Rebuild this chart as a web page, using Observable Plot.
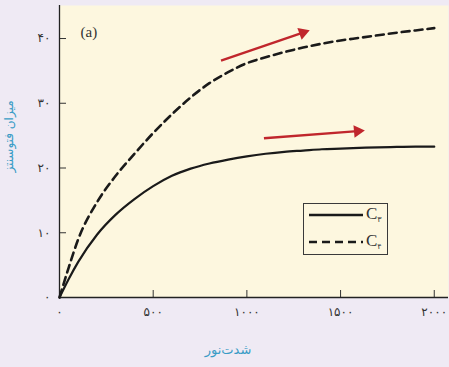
<!DOCTYPE html>
<html>
<head>
<meta charset="utf-8">
<script src="https://cdn.jsdelivr.net/npm/d3@7"></script>
<script src="https://cdn.jsdelivr.net/npm/@observablehq/plot@0.6"></script>
<style>
  html, body { margin: 0; padding: 0; background: #efeaf4; }
  #wrap { position: relative; width: 449px; height: 367px; overflow: hidden; }
  #legend { position: absolute; left: 303px; top: 203px; width: 85px; height: 52px;
    border: 1px solid #3a3a3a; box-sizing: border-box; font-family: "Liberation Serif", serif; }
  .row { position: absolute; left: 3px; height: 20px; }
  .row svg { position: absolute; left: 0; top: 0; }
  .row span { position: absolute; left: 59px; top: -1px; font-size: 17px; color: #333; }
  .row sub { font-family: "DejaVu Sans", sans-serif; font-size: 8px; vertical-align: -3px; }
</style>
</head>
<body>
<div id="wrap"></div>
<script>
const lightX = [0, 50, 100, 200, 300, 400, 500, 600, 700, 800, 900, 1000, 1100, 1200, 1300, 1400, 1500, 1600, 1700, 1800, 1900, 2000];
const c3Values = [0, 2.9, 5.5, 9.7, 12.8, 15.2, 17.2, 18.8, 19.9, 20.7, 21.3, 21.8, 22.2, 22.5, 22.7, 22.9, 23.0, 23.1, 23.2, 23.25, 23.3, 23.3];
const c4Values = [0, 4.7, 9.0, 14.7, 18.8, 22.2, 25.4, 28.3, 30.9, 33.1, 34.8, 36.2, 37.1, 37.9, 38.6, 39.2, 39.7, 40.1, 40.5, 40.9, 41.25, 41.6];
const seriesNames = ["C۳", "C۴"];
const xTicks = [0, 500, 1000, 1500, 2000];
const yTicks = [0, 10, 20, 30, 40];
const arrowX1 = [862, 1091];
const arrowY1 = [36.6, 24.6];
const arrowX2 = [1299, 1591];
const arrowY2 = [40.9, 25.7];
const arrowRotate = [70, 85];

const fa = (n) => String(n).replace(/\d/g, d => "۰۱۲۳۴۵۶۷۸۹"[d]);

const c3 = lightX.map((x, i) => ({x, y: c3Values[i]}));
const c4 = lightX.map((x, i) => ({x, y: c4Values[i]}));
const arrows = arrowX1.map((x, i) => ({x1: x, y1: arrowY1[i], x2: arrowX2[i], y2: arrowY2[i], r: arrowRotate[i]}));

const teal = "#3a9cc6";
const chart = Plot.plot({
  width: 449,
  height: 367,
  marginLeft: 59,
  marginRight: 1,
  marginTop: 5,
  marginBottom: 70,
  style: {background: "transparent", fontFamily: "DejaVu Sans, sans-serif"},
  x: {domain: [0, 2076]},
  y: {domain: [0, 45.1]},
  marks: [
    Plot.frame({fill: "#fdf7df", stroke: null}),
    Plot.axisX({ticks: xTicks, tickFormat: fa, tickSize: -7, tickPadding: 17, fontSize: 12, color: "#333", label: null}),
    Plot.axisY({ticks: yTicks, tickFormat: fa, tickSize: -7, tickPadding: 16, fontSize: 12, color: "#333", label: null}),
    Plot.ruleX([0], {stroke: "#222", strokeWidth: 1.3}),
    Plot.ruleY([0], {stroke: "#222", strokeWidth: 1.3}),
    Plot.line(c3, {x: "x", y: "y", stroke: "#1a1a1a", strokeWidth: 2.2, curve: "monotone-x"}),
    Plot.line(c4, {x: "x", y: "y", stroke: "#1a1a1a", strokeWidth: 2.6, strokeDasharray: "8,5", curve: "monotone-x"}),
    Plot.link(arrows, {x1: "x1", y1: "y1", x2: "x2", y2: "y2", stroke: "#c0262c", strokeWidth: 2.4}),
    Plot.dot(arrows, {x: "x2", y: "y2", symbol: "triangle2", r: 6, fill: "#c0262c", stroke: null, rotate: "r"}),
    Plot.text(["(a)"], {frameAnchor: "top-left", dx: 21, dy: 21, fontSize: 15, fontFamily: "Liberation Serif, serif", fill: "#333", textAnchor: "start"}),
    Plot.text(["میزان فتوسنتز"], {frameAnchor: "left", dx: -50, dy: 21, rotate: -90, fontSize: 12, fill: teal}),
    Plot.text(["شدت‌نور"], {frameAnchor: "bottom", dx: -26, dy: 56, fontSize: 13, fill: teal})
  ]
});

const wrap = document.getElementById("wrap");
wrap.appendChild(chart);
const legend = document.createElement("div");
legend.id = "legend";
legend.innerHTML = seriesNames.map((name, i) => `
  <div class="row" style="top:${i === 0 ? 1 : 28}px">
    <svg width="58" height="20"><line x1="2" x2="56" y1="10" y2="10" stroke="#1a1a1a" stroke-width="2.4" ${i === 1 ? 'stroke-dasharray="8,5"' : ''}/></svg>
    <span>${name[0]}<sub>${name.slice(1)}</sub></span>
  </div>`).join("");
wrap.appendChild(legend);
</script>
</body>
</html>
